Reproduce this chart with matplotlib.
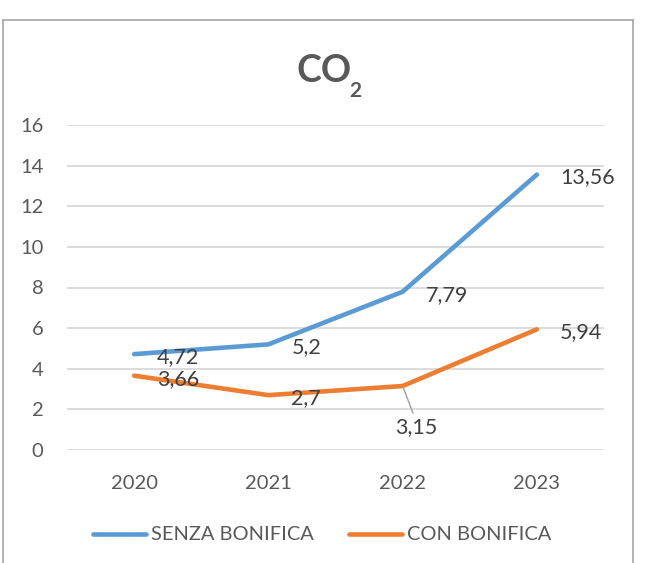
import matplotlib
matplotlib.use("Agg")
import matplotlib.pyplot as plt
from matplotlib.lines import Line2D

years = ["2020", "2021", "2022", "2023"]
senza = [4.72, 5.2, 7.79, 13.56]
con = [3.66, 2.7, 3.15, 5.94]
senza_labels = ["4,72", "5,2", "7,79", "13,56"]
con_labels = ["3,66", "2,7", "3,15", "5,94"]
yticks = [0, 2, 4, 6, 8, 10, 12, 14, 16]

BLUE = "#5B9BD5"
ORANGE = "#ED7D31"
GREY_TXT = "#595959"
LBL_TXT = "#404040"
FONT = "Lato"
LBL_FS = 15.5
TICK_FS = 14.5

plt.rcParams["font.family"] = [FONT, "DejaVu Sans"]

W, H = 646, 563
fig = plt.figure(figsize=(W / 100, H / 100), dpi=100)
fig.patch.set_facecolor("white")

def fx(px):
    return px / W
def fy(py):
    return (H - py) / H

# outer frame (left, top, right)
fr = "#A6A6A6"
fig.add_artist(Line2D([fx(3), fx(3)], [fy(20), fy(570)], color=fr, lw=1.2, transform=fig.transFigure))
fig.add_artist(Line2D([fx(3), fx(633)], [fy(20), fy(20)], color=fr, lw=1.2, transform=fig.transFigure))
fig.add_artist(Line2D([fx(633), fx(633)], [fy(20), fy(570)], color=fr, lw=1.2, transform=fig.transFigure))

ax = fig.add_axes([fx(67), fy(450), (604 - 67) / W, (450 - 125) / H])
x = list(range(len(years)))
ax.set_xlim(-0.5, len(years) - 0.5)
ax.set_ylim(0, 16)
ax.set_yticks(yticks)
ax.set_yticklabels([str(v) for v in yticks])
ax.set_xticks(x)
ax.set_xticklabels(years)
for s in ax.spines.values():
    s.set_visible(False)
ax.grid(axis="y", color="#D9D9D9", lw=1.3)
ax.set_axisbelow(True)
ax.tick_params(axis="both", length=0, labelsize=TICK_FS, colors=GREY_TXT)
ax.tick_params(axis="y", pad=17)
ax.tick_params(axis="x", pad=18)

ax.plot(x, senza, color=BLUE, lw=3.3, solid_capstyle="round", solid_joinstyle="round", label="SENZA BONIFICA")
ax.plot(x, con, color=ORANGE, lw=3.3, solid_capstyle="round", solid_joinstyle="round", label="CON BONIFICA")

for xi, yi, t in zip(x, senza, senza_labels):
    ax.annotate(t, (xi, yi), xytext=(23, -3), textcoords="offset pixels",
                ha="left", va="center", fontsize=LBL_FS, color=LBL_TXT)
for xi, yi, t in zip(x, con, con_labels):
    if t == "3,15":
        ax.annotate(t, (xi, yi), xytext=(14, -41), textcoords="offset pixels",
                    ha="center", va="center", fontsize=LBL_FS, color=LBL_TXT,
                    arrowprops=dict(arrowstyle="-", color="#A5A5A5", lw=1.1,
                                    shrinkA=1, shrinkB=1, relpos=(0.45, 1.0)))
    else:
        ax.annotate(t, (xi, yi), xytext=(23, -3), textcoords="offset pixels",
                    ha="left", va="center", fontsize=LBL_FS, color=LBL_TXT)

# title
co = fig.text(fx(297), fy(82), "CO", ha="left", va="baseline", fontsize=27,
              fontweight="bold", color=GREY_TXT)
ax.annotate("2", xy=(1, 0), xycoords=co, xytext=(-3, -9), textcoords="offset pixels",
            ha="left", va="baseline", fontsize=15, fontweight="bold", color=GREY_TXT,
            annotation_clip=False)

leg = fig.legend(loc="center", bbox_to_anchor=(fx(322), fy(535)), ncol=2, frameon=False,
                 fontsize=14.4, handlelength=2.65, handletextpad=0.25, columnspacing=1.75,
                 labelcolor=GREY_TXT)

fig.savefig("out.png", dpi=100)
